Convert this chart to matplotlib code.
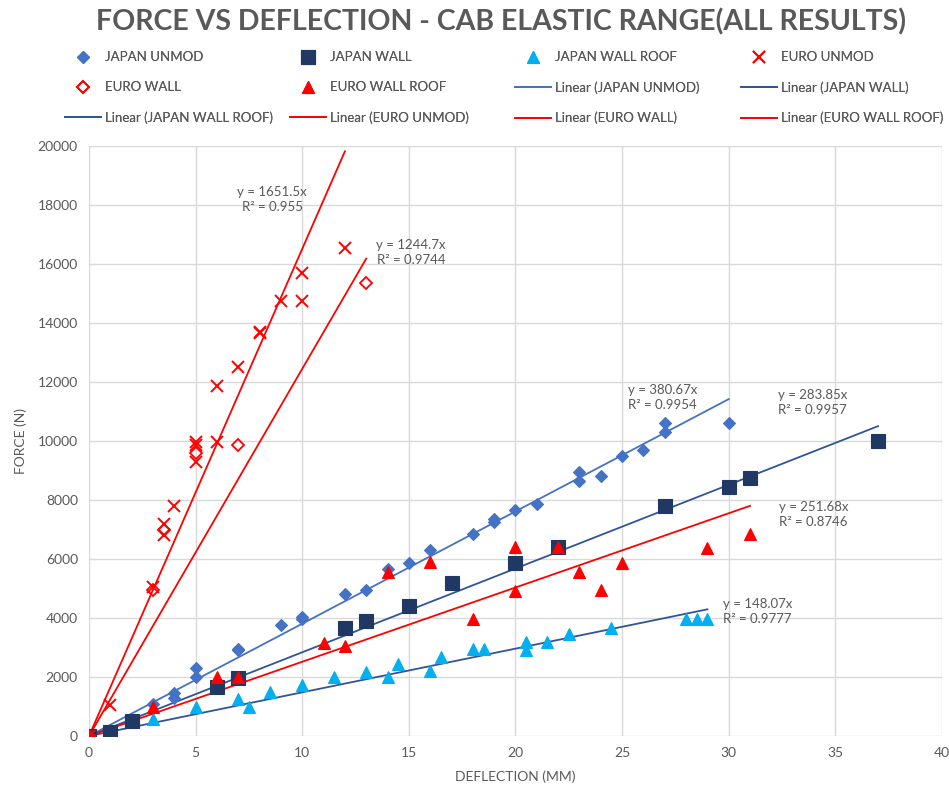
import matplotlib.pyplot as plt
import numpy as np

plt.rcParams['font.family'] = ['Lato', 'DejaVu Sans']

# data
japan_unmod_x = [0, 3, 4, 4, 5, 5, 7, 7, 9, 10, 10, 12, 13, 14, 15, 16, 18, 19, 19, 20, 21, 23, 23, 24, 25, 26, 27, 27, 30]
japan_unmod_y = [0, 1100, 1300, 1450, 2000, 2300, 2900, 2950, 3750, 3950, 4050, 4800, 4950, 5650, 5850, 6300,
                 6850, 7250, 7350, 7650, 7850, 8650, 8950, 8800, 9500, 9700, 10300, 10600, 10600]

japan_wall_x = [0, 1, 2, 6, 7, 12, 13, 15, 17, 20, 22, 27, 30, 31, 37]
japan_wall_y = [0, 150, 500, 1650, 1950, 3650, 3900, 4400, 5200, 5850, 6400, 7800, 8450, 8750, 10000]

japan_roof_x = [0, 3, 5, 7, 7.5, 8.5, 10, 11.5, 13, 14, 14.5, 16, 16.5, 18, 18.5, 20.5, 20.5, 21.5, 22.5, 24.5, 28, 28.5, 29]
japan_roof_y = [0, 560, 980, 1250, 1000, 1480, 1720, 2000, 2180, 2000, 2450, 2220, 2680, 2950, 2950, 3200, 2920,
                3200, 3450, 3650, 3950, 3950, 3950]

euro_unmod_x = [0, 1, 3, 3.5, 3.5, 4, 5, 5, 5, 6, 6, 7, 8, 8, 9, 10, 10, 12]
euro_unmod_y = [0, 1050, 5050, 7200, 6800, 7800, 9300, 9850, 9950, 9950, 11850, 12500, 13650, 13700, 14750,
                15700, 14750, 16550]

euro_wall_x = [0, 3, 3.5, 5, 7, 13]
euro_wall_y = [0, 4950, 6980, 9600, 9850, 15350]

euro_roof_x = [0, 3, 6, 7, 11, 12, 14, 16, 18, 20, 20, 22, 23, 24, 25, 29, 31]
euro_roof_y = [0, 980, 2000, 2000, 3150, 3050, 5550, 5900, 3950, 6400, 4900, 6400, 5550, 4950, 5880, 6380, 6850]

names = ['JAPAN UNMOD', 'JAPAN WALL', 'JAPAN WALL ROOF', 'EURO UNMOD', 'EURO WALL', 'EURO WALL ROOF']
slopes = [380.67, 283.85, 148.07, 1651.5, 1244.7, 251.68]
r2 = ['0.9954', '0.9957', '0.9777', '0.955', '0.9744', '0.8746']

xs = [japan_unmod_x, japan_wall_x, japan_roof_x, euro_unmod_x, euro_wall_x, euro_roof_x]
ys = [japan_unmod_y, japan_wall_y, japan_roof_y, euro_unmod_y, euro_wall_y, euro_roof_y]

# styles
mk = [dict(marker='D', color='#4472C4', ms=6),
      dict(marker='s', color='#1F3864', ms=9.5),
      dict(marker='^', color='#00B0F0', ms=9),
      dict(marker='x', color='#FF0000', ms=8, mew=1.4),
      dict(marker='D', color='none', mec='#FF0000', ms=6, mew=1.3),
      dict(marker='^', color='#FF0000', ms=9)]
line_cols = ['#4472C4', '#2F5597', '#2F5597', '#FF0000', '#FF0000', '#FF0000']
# label anchor (left, middle) for equations
lab_pos = [(25.26, 11475), (32.3, 11320), (29.72, 4204), (6.95, 18170), (13.47, 16390), (32.35, 7525)]

fig = plt.figure(figsize=(9.49, 7.92), dpi=100)
ax = fig.add_axes([0.0938, 0.0707, 0.8988, 0.745])

grey = '#595959'
handles_pts = []
handles_lin = []
for i in range(6):
    x = np.array(xs[i], dtype=float)
    y = np.array(ys[i], dtype=float)
    m = mk[i]
    kw = dict(ls='none', marker=m['marker'], ms=m['ms'], mew=m.get('mew', 0.8))
    if m['color'] == 'none':
        kw.update(mfc='none', mec=m['mec'])
    else:
        kw.update(color=m['color'])
    h, = ax.plot(x, y, zorder=3, **kw)
    handles_pts.append(h)

    xl = np.array([0, x.max()])
    l, = ax.plot(xl, slopes[i] * xl, color=line_cols[i], lw=1.3, zorder=2)
    handles_lin.append(l)

    px, py = lab_pos[i]
    ax.text(px, py, 'y = %sx\nR² = %s' % (slopes[i], r2[i]), ha='left', va='center',
            multialignment='center', fontsize=9.5, color=grey, linespacing=1.3)

ax.set_xlim(0, 40)
ax.set_ylim(0, 20000)
ax.set_xticks(np.arange(0, 41, 5))
ax.set_yticks(np.arange(0, 20001, 2000))
ax.grid(True, color='#D9D9D9', lw=1)
ax.set_axisbelow(True)
for s in ax.spines.values():
    s.set_visible(False)
ax.tick_params(length=0, colors=grey, labelsize=10, pad=8)
ax.set_xlabel('DEFLECTION (MM)', color=grey, fontsize=10, labelpad=8)
ax.set_ylabel('FORCE (N)', color=grey, fontsize=10, labelpad=8)

fig.text(0.528, 0.972, 'FORCE VS DEFLECTION - CAB ELASTIC RANGE(ALL RESULTS)', ha='center', va='center',
         fontsize=20.5, fontweight='bold', color=grey)

# Excel-style legend: 3 rows x 4 evenly spaced columns
entries = handles_pts + handles_lin
labels = names + ['Linear (%s)' % n for n in names]
col_x = [65, 290, 515, 741]
for c in range(4):
    idx = [c, c + 4, c + 8]
    leg = fig.legend([entries[k] for k in idx], [labels[k] for k in idx],
                     loc='upper left', bbox_to_anchor=(col_x[c] / 949, 0.935), frameon=False,
                     fontsize=9.5, labelcolor=grey, handlelength=2.7, borderpad=0, borderaxespad=0,
                     labelspacing=1.35, handletextpad=0.3)
    fig.add_artist(leg)

fig.savefig('out.png', dpi=100)
